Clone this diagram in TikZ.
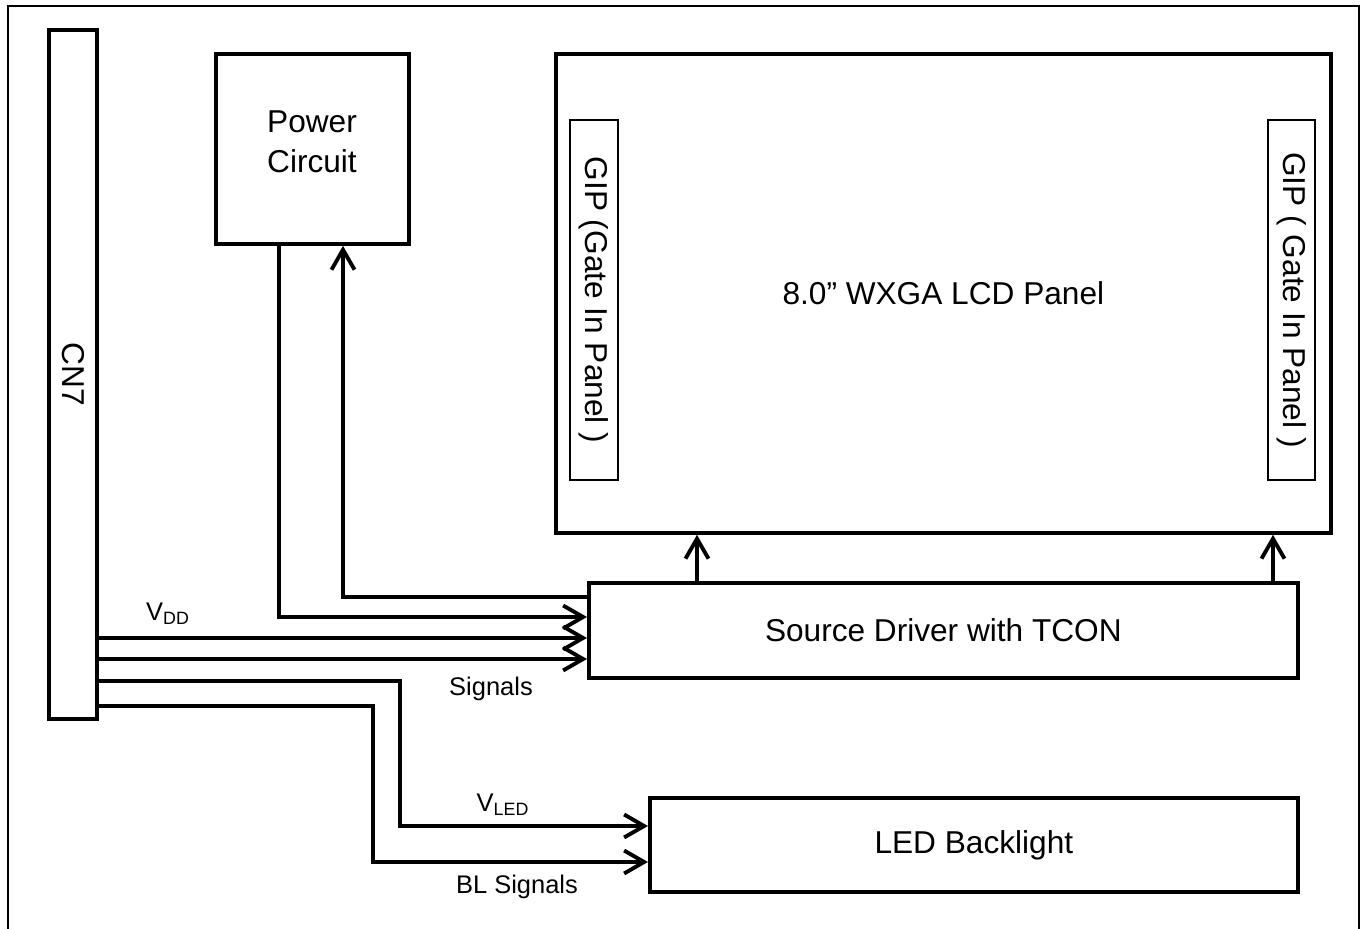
\documentclass[tikz,border=0pt]{standalone}
\usepackage{fontspec}
\setmainfont{Liberation Sans}
\usepackage{tikz}
\usetikzlibrary{arrows.meta}

\begin{document}
\begin{tikzpicture}[x=0.02cm,y=-0.02cm,
  box/.style={draw, line width=2.2pt, anchor=north west, inner sep=0pt, font=\fontsize{18}{23}\selectfont},
  gip/.style={draw, line width=1.1pt, anchor=north west, inner sep=0pt},
  arr/.style={line width=2.2pt, -{Straight Barb[length=0.4cm,width=0.46cm]}},
  lbl/.style={font=\fontsize{14.5}{17}\selectfont, inner sep=0pt}]
\useasboundingbox (0,0) rectangle (1367,929);
\draw[line width=1.1pt] (8,6) rectangle (1359,960);
% blocks
\node[box, minimum width=0.96cm, minimum height=13.78cm] (cn7) at (47,28) {};
\node[rotate=-90, font=\fontsize{18}{23}\selectfont] (cn7txt) at (cn7.center) {CN7};
\node[box, minimum width=3.86cm, minimum height=3.8cm] (pwr) at (214,52) {};
\node[align=center, font=\fontsize{18}{23}\selectfont] (pwrtxt) at (312,142) {Power\\Circuit};
\node[box, minimum width=15.5cm, minimum height=9.58cm] (lcd) at (554,52) {8.0” WXGA LCD Panel};
\node[gip, minimum width=0.96cm, minimum height=7.2cm] (gipL) at (569,119) {};
\node[gip, minimum width=0.94cm, minimum height=7.2cm] (gipR) at (1267,119) {};
\node[rotate=-90, font=\fontsize{18}{23}\selectfont] (gipLtxt) at (gipL.center) {GIP (Gate In Panel )};
\node[rotate=-90, font=\fontsize{18}{23}\selectfont] (gipRtxt) at (gipR.center) {GIP ( Gate In Panel )};
\node[box, minimum width=14.18cm, minimum height=1.9cm] (drv) at (587,581) {Source Driver with TCON};
\node[box, minimum width=12.96cm, minimum height=1.88cm] (led) at (648,796) {LED Backlight};
% bus points
\coordinate (xUp) at (343,597); \coordinate (xDn) at (279,617);
\coordinate (yVdd) at (0,638); \coordinate (ySig) at (0,659);
\coordinate (bLed) at (400,681); \coordinate (bBl) at (373,706);
\coordinate (yLed) at (0,826); \coordinate (yBl) at (0,862);
\coordinate (uL) at (697,0); \coordinate (uR) at (1273,0);
% connectors
\draw[arr] (drv.west |- xUp) -| (pwr.south -| xUp);
\draw[arr] (pwr.south -| xDn) |- (drv.west |- xDn);
\draw[arr] (cn7.east |- yVdd) -- (drv.west |- yVdd);
\draw[arr] (cn7.east |- ySig) -- (drv.west |- ySig);
\draw[arr] (cn7.east |- bLed) -- (bLed) |- (led.west |- yLed);
\draw[arr] (cn7.east |- bBl) -- (bBl) |- (led.west |- yBl);
\draw[arr] (drv.north -| uL) -- (lcd.south -| uL);
\draw[arr] (drv.north -| uR) -- (lcd.south -| uR);
% labels
\node[lbl] (vdd) at (168,614) {V\textsubscript{DD}};
\node[lbl] (sig) at (491,689) {Signals};
\node[lbl] (vled) at (503,805) {V\textsubscript{LED}};
\node[lbl] (blsig) at (517,887) {BL Signals};
\end{tikzpicture}
\end{document}
